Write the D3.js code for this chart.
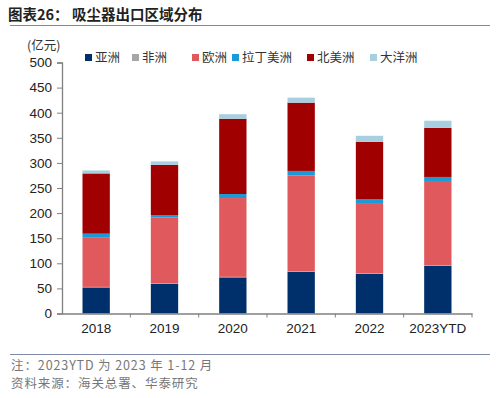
<!DOCTYPE html>
<html><head><meta charset="utf-8">
<script src="https://cdn.jsdelivr.net/npm/d3@7"></script>
<style>body{margin:0;background:#fff}svg{display:block}</style>
</head><body>
<svg id="c" width="500" height="398"></svg>
<script>
const categories = ["2018","2019","2020","2021","2022","2023YTD"];
const seriesNames = ["亚洲","非洲","欧洲","拉丁美洲","北美洲","大洋洲"];
const asia    = [52, 59, 72, 83, 79, 95];
const africa  = [1, 1, 1, 1, 1, 1];
const europe  = [99, 131, 157, 191, 140, 168];
const latam   = [7, 5, 8, 9, 8, 8];
const namer   = [120, 100, 150, 136, 114, 98];
const oceania = [6, 7, 9, 10, 12, 14];
const yTicks = [0,50,100,150,200,250,300,350,400,450,500];
const colors = ["#00306b","#a6a6a6","#e05a5d","#1a9ad6","#a00000","#a8cfe0"];

const seriesData = [asia, africa, europe, latam, namer, oceania];
const rows = categories.map((c,i)=>{const r={cat:c}; seriesNames.forEach((s,j)=>r[s]=seriesData[j][i]); return r;});
const stack = d3.stack().keys(seriesNames)(rows);

const svg = d3.select("#c");
const font = "'Liberation Sans', Arial, sans-serif";
const cjk = "'Noto Sans CJK SC', sans-serif";

// title
svg.append("text").attr("x",8).attr("y",20).attr("font-family",cjk).attr("font-weight","bold")
  .attr("font-size",14.5).attr("fill","#222").text("图表26：  吸尘器出口区域分布");
svg.append("line").attr("x1",10).attr("x2",490).attr("y1",25.5).attr("y2",25.5).attr("stroke","#7f8aa8").attr("stroke-width",1.2);

const x = d3.scaleBand().domain(categories).range([62,472]).paddingInner(0.6).paddingOuter(0.3);
const xb = d3.scaleBand().domain(categories).range([62,472]);
const y = d3.scaleLinear().domain([0,500]).range([313.5,62.5]);

// bars
svg.append("g").selectAll("g").data(stack).join("g").attr("fill",(d,i)=>colors[i])
  .selectAll("rect").data(d=>d).join("rect")
  .attr("x",d=>x(d.data.cat)).attr("width",x.bandwidth())
  .attr("y",d=>y(d[1])).attr("height",d=>y(d[0])-y(d[1]));

// y axis
const ya = svg.append("g").attr("transform","translate(62,0)")
  .call(d3.axisLeft(y).tickValues(yTicks).tickSize(5).tickPadding(5));
ya.select(".domain").attr("stroke","#808080").attr("stroke-width",1.3);
ya.selectAll(".tick line").attr("stroke","#808080");
ya.selectAll("text").attr("font-family",font).attr("font-size",13.5).attr("fill","#222");

// x axis
const xa = svg.append("g").attr("transform","translate(0,313.5)")
  .call(d3.axisBottom(xb).tickSize(0).tickPadding(10));
xa.select(".domain").attr("stroke","#808080").attr("stroke-width",1.3);
xa.selectAll("text").attr("font-family",font).attr("font-size",13.5).attr("fill","#222");
xa.selectAll(".bnd").data(categories).join("line").attr("class","bnd")
  .attr("x1",d=>xb(d)+xb.bandwidth()).attr("x2",d=>xb(d)+xb.bandwidth())
  .attr("y1",0).attr("y2",4).attr("stroke","#808080");

// unit label
svg.append("text").attr("x",27).attr("y",50).attr("font-family",cjk).attr("font-size",12.5)
  .attr("fill","#333").text("(亿元)");

// legend
const legX = [85,132,192,232,307,370];
const lg = svg.append("g").selectAll("g").data(seriesNames).join("g")
  .attr("transform",(d,i)=>`translate(${legX[i]},54)`);
lg.append("rect").attr("width",7).attr("height",7).attr("fill",(d,i)=>colors[i]);
lg.append("text").attr("x",10).attr("y",7.5).attr("font-family",cjk).attr("font-size",12.5)
  .attr("fill","#333").text(d=>d);

// footer
svg.append("line").attr("x1",10).attr("x2",490).attr("y1",354.5).attr("y2",354.5).attr("stroke","#7f8aa8").attr("stroke-width",1.2);
svg.append("text").attr("x",11).attr("y",370).attr("font-family",cjk).attr("font-size",12.5)
  .attr("letter-spacing",0.9).attr("fill","#777").text("注：2023YTD 为 2023 年 1-12 月");
svg.append("text").attr("x",11).attr("y",388).attr("font-family",cjk).attr("font-size",12.5)
  .attr("letter-spacing",0.9).attr("fill","#777").text("资料来源：海关总署、华泰研究");
</script>
</body></html>
